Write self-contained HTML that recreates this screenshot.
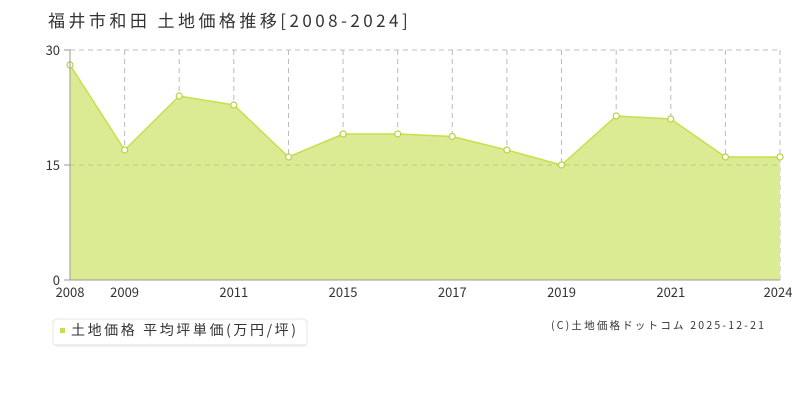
<!DOCTYPE html>
<html><head><meta charset="utf-8"><style>
body{margin:0;background:#fff;font-family:"Liberation Sans","Noto Sans CJK JP",sans-serif;}
</style></head><body>
<svg width="800" height="400" xmlns="http://www.w3.org/2000/svg" style="display:block">
<text x="48" y="27" font-size="17" fill="#333" font-family="Noto Sans CJK JP,sans-serif" letter-spacing="2.3" textLength="362" lengthAdjust="spacing">福井市和田 土地価格推移[2008-2024]</text>
<g stroke="#bbb" stroke-dasharray="5,4" stroke-width="1">
<line x1="124.6" y1="50" x2="124.6" y2="280"/><line x1="179.2" y1="50" x2="179.2" y2="280"/><line x1="233.8" y1="50" x2="233.8" y2="280"/><line x1="288.5" y1="50" x2="288.5" y2="280"/><line x1="343.1" y1="50" x2="343.1" y2="280"/><line x1="397.7" y1="50" x2="397.7" y2="280"/><line x1="452.3" y1="50" x2="452.3" y2="280"/><line x1="506.9" y1="50" x2="506.9" y2="280"/><line x1="561.5" y1="50" x2="561.5" y2="280"/><line x1="616.2" y1="50" x2="616.2" y2="280"/><line x1="670.8" y1="50" x2="670.8" y2="280"/><line x1="725.4" y1="50" x2="725.4" y2="280"/><line x1="780" y1="50" x2="780" y2="280"/>
<line x1="70" y1="50" x2="780" y2="50"/>
</g>
<polygon points="70,280 70,65 124.6,150 179.2,96 233.8,105 288.5,157 343.1,134 397.7,134 452.3,136.5 506.9,150 561.5,165 616.2,116 670.8,119 725.4,157 780,157 780,280" fill="#dbeb94"/>
<line x1="70" y1="165" x2="780" y2="165" stroke="#b8c98a" stroke-dasharray="5,4"/>
<polyline points="70,65 124.6,150 179.2,96 233.8,105 288.5,157 343.1,134 397.7,134 452.3,136.5 506.9,150 561.5,165 616.2,116 670.8,119 725.4,157 780,157" fill="none" stroke="#c5e04a" stroke-width="1.5"/>
<g fill="#fff" stroke="#b5d33a" stroke-width="1.2">
<circle cx="70" cy="65" r="3"/><circle cx="124.6" cy="150" r="3"/><circle cx="179.2" cy="96" r="3"/><circle cx="233.8" cy="105" r="3"/><circle cx="288.5" cy="157" r="3"/><circle cx="343.1" cy="134" r="3"/><circle cx="397.7" cy="134" r="3"/><circle cx="452.3" cy="136.5" r="3"/><circle cx="506.9" cy="150" r="3"/><circle cx="561.5" cy="165" r="3"/><circle cx="616.2" cy="116" r="3"/><circle cx="670.8" cy="119" r="3"/><circle cx="725.4" cy="157" r="3"/><circle cx="780" cy="157" r="3"/>
</g>
<line x1="70" y1="50" x2="70" y2="280" stroke="#999"/>
<line x1="70" y1="280" x2="780" y2="280" stroke="#999"/>
<g stroke="#999"><line x1="64" y1="50" x2="70" y2="50"/><line x1="64" y1="165" x2="70" y2="165"/><line x1="64" y1="280" x2="70" y2="280"/></g>
<g font-size="13" fill="#333" font-family="Noto Sans CJK JP,sans-serif">
<text x="60" y="55" text-anchor="end">30</text><text x="60" y="170" text-anchor="end">15</text><text x="60" y="285" text-anchor="end">0</text>
<text x="70" y="297" text-anchor="middle">2008</text><text x="124.6" y="297" text-anchor="middle">2009</text><text x="233.8" y="297" text-anchor="middle">2011</text><text x="343.1" y="297" text-anchor="middle">2015</text><text x="452.3" y="297" text-anchor="middle">2017</text><text x="561.5" y="297" text-anchor="middle">2019</text><text x="670.8" y="297" text-anchor="middle">2021</text><text x="778" y="297" text-anchor="middle">2024</text>
</g>
<rect x="53" y="319" width="254" height="27" rx="4" fill="#fff" stroke="#e4e4e4"/>
<rect x="55" y="344" width="252" height="2" fill="#eee"/>
<rect x="60" y="328" width="5" height="5" fill="#c5e04a"/>
<text x="71" y="335" font-size="14" fill="#333" font-family="Noto Sans CJK JP,sans-serif" textLength="225" lengthAdjust="spacing">土地価格 平均坪単価(万円/坪)</text>
<text x="551" y="329" font-size="10.5" fill="#333" font-family="Noto Sans CJK JP,monospace" textLength="213" lengthAdjust="spacing">(C)土地価格ドットコム 2025-12-21</text>
</svg>
</body></html>
